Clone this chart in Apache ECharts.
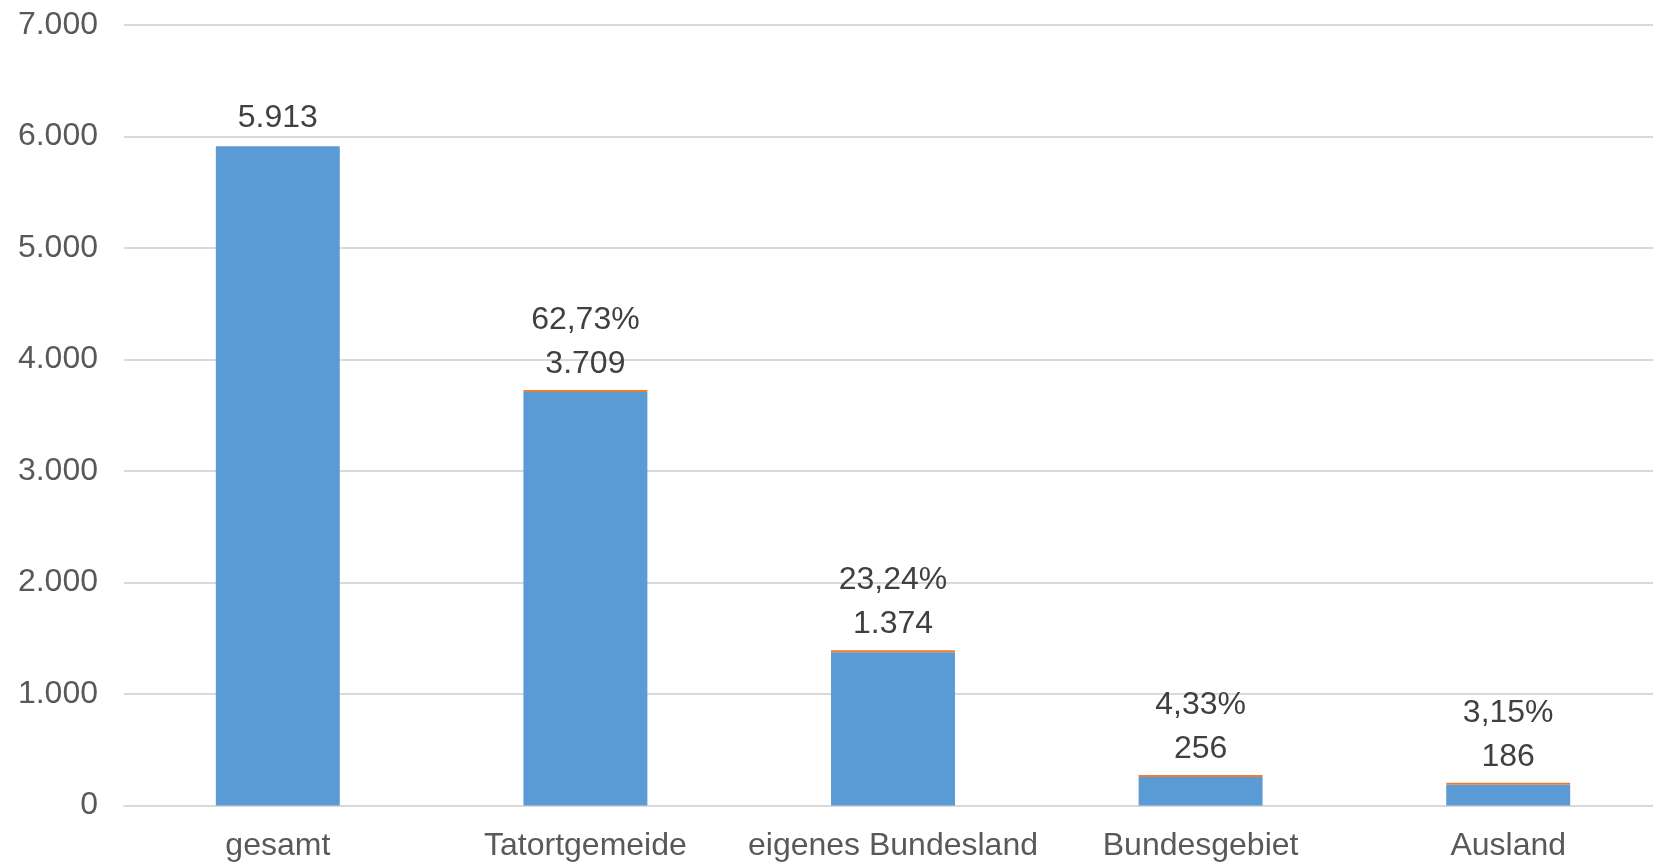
<!DOCTYPE html>
<html>
<head>
<meta charset="utf-8">
<script src="https://cdn.jsdelivr.net/npm/echarts@6/dist/echarts.min.js"></script>
<style>
html,body{margin:0;padding:0;background:#fff;}
#chart{width:1653px;height:863px;}
</style>
</head>
<body>
<div id="chart"></div>
<script>
const categories = ['gesamt', 'Tatortgemeide', 'eigenes Bundesland', 'Bundesgebiet', 'Ausland'];
const counts = [5913, 3709, 1374, 256, 186];
const shares = [null, 0.6273, 0.2324, 0.0433, 0.0315];
const yTicks = { min: 0, max: 7000, interval: 1000 };

const FONT = '"Liberation Sans", Arial, sans-serif';
const fmtDE = v => String(v).replace(/\B(?=(\d{3})+(?!\d))/g, '.');

const chart = echarts.init(document.getElementById('chart'));
chart.setOption({
  animation: false,
  textStyle: { fontFamily: FONT },
  grid: { left: 124, width: 1538, top: 25, bottom: 57.5, containLabel: false, outerBoundsMode: 'none' },
  xAxis: {
    type: 'category',
    data: categories,
    axisLine: { show: true, lineStyle: { color: '#D9D9D9', width: 2 } },
    axisTick: { show: false },
    axisLabel: { color: '#595959', fontSize: 32, fontFamily: FONT, margin: 25, interval: 0 }
  },
  yAxis: {
    type: 'value',
    min: yTicks.min, max: yTicks.max, interval: yTicks.interval,
    axisLine: { show: false },
    axisTick: { show: false },
    splitLine: { lineStyle: { color: '#D9D9D9', width: 2 } },
    axisLabel: { color: '#595959', fontSize: 32, fontFamily: FONT, margin: 26, formatter: v => fmtDE(v) }
  },
  series: [
    {
      name: 'Anzahl',
      type: 'bar',
      stack: 'a',
      data: counts,
      barWidth: '40.3%',
      itemStyle: { color: '#5B9BD5' },
      label: {
        show: true, position: 'top', distance: 12,
        color: '#404040', fontSize: 32, fontFamily: FONT,
        formatter: p => fmtDE(p.value)
      }
    },
    {
      name: 'Anteil',
      type: 'bar',
      stack: 'a',
      data: shares,
      barWidth: '40.3%',
      barMinHeight: 2,
      itemStyle: { color: '#ED7D31' },
      label: {
        show: true, position: 'top', distance: 54,
        color: '#404040', fontSize: 32, fontFamily: FONT,
        formatter: p => (p.value == null ? '' : (p.value * 100).toFixed(2).replace('.', ',') + '%')
      }
    }
  ]
});
</script>
</body>
</html>
